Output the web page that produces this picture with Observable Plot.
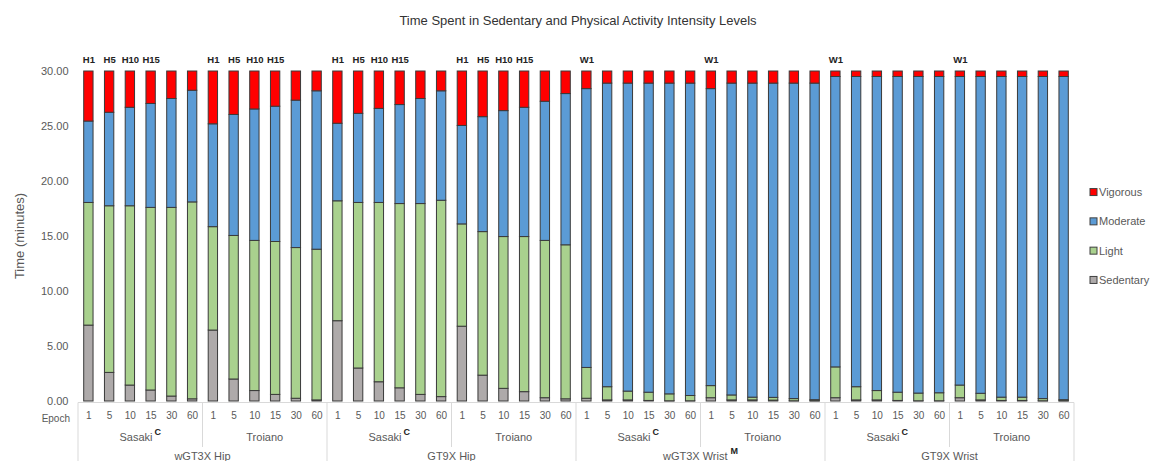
<!DOCTYPE html>
<html><head><meta charset="utf-8">
<script src="https://cdn.jsdelivr.net/npm/d3@7"></script>
<script src="https://cdn.jsdelivr.net/npm/@observablehq/plot@0.6"></script>
<style>
body{margin:0;background:#fff;font-family:"Liberation Sans",Arial,sans-serif}
</style>
</head><body><div id="chart"></div>
<script>
const title = "Time Spent in Sedentary and Physical Activity Intensity Levels";
const yLabel = "Time (minutes)";
const devices = ["wGT3X Hip", "GT9X Hip", "wGT3X Wrist", "GT9X Wrist"];
const deviceSup = ["", "", "M", ""];
const methods = ["Sasaki", "Troiano"];
const methodSup = ["C", ""];
const epochs = [1, 5, 10, 15, 30, 60];
const levels = ["Sedentary", "Light", "Moderate", "Vigorous"];
const colors = ["#aeaaaa", "#a9d18e", "#5b9bd5", "#ff0000"];
const yTicks = [0, 5, 10, 15, 20, 25, 30];
const hipMarks = ["H1", "H5", "H10", "H15", "", ""];
const wristMarks = ["W1", "", "", "", "", ""];

// Bars ordered device -> method -> epoch
const sedentary = [
  6.9, 2.6, 1.45, 1.0, 0.45, 0.2,
  6.45, 2.0, 0.95, 0.6, 0.25, 0.1,
  7.3, 3.0, 1.75, 1.2, 0.6, 0.4,
  6.8, 2.35, 1.15, 0.85, 0.3, 0.2,
  0.25, 0.1, 0.1, 0.05, 0.02, 0.02,
  0.3, 0.1, 0.1, 0.08, 0.02, 0.02,
  0.3, 0.1, 0.1, 0.05, 0.02, 0.02,
  0.3, 0.1, 0.05, 0.05, 0.02, 0.02
];
const light = [
  11.15, 15.15, 16.3, 16.6, 17.15, 17.9,
  9.4, 13.05, 13.65, 13.9, 13.7, 13.7,
  10.9, 15.05, 16.3, 16.75, 17.35, 17.85,
  9.3, 13.05, 13.8, 14.1, 14.3, 14.0,
  2.8, 1.2, 0.8, 0.75, 0.63, 0.48,
  1.1, 0.45, 0.25, 0.25, 0.2, 0.1,
  2.8, 1.2, 0.85, 0.75, 0.7, 0.73,
  1.15, 0.6, 0.3, 0.3, 0.2, 0.1
];
const moderate = [
  7.4, 8.5, 8.95, 9.45, 9.9, 10.15,
  9.35, 11.0, 11.95, 12.3, 13.4, 14.4,
  7.05, 8.1, 8.55, 9.0, 9.55, 9.95,
  8.95, 10.45, 11.45, 11.75, 12.65, 13.75,
  25.35, 27.6, 28.0, 28.1, 28.25, 28.4,
  27.0, 28.35, 28.55, 28.57, 28.68, 28.78,
  26.4, 28.2, 28.55, 28.7, 28.78, 28.75,
  28.05, 28.8, 29.15, 29.15, 29.28, 29.38
];
const vigorous = [
  4.55, 3.75, 3.3, 2.95, 2.5, 1.75,
  4.8, 3.95, 3.45, 3.2, 2.65, 1.8,
  4.75, 3.85, 3.4, 3.05, 2.5, 1.8,
  4.95, 4.15, 3.6, 3.3, 2.75, 2.05,
  1.6, 1.1, 1.1, 1.1, 1.1, 1.1,
  1.6, 1.1, 1.1, 1.1, 1.1, 1.1,
  0.5, 0.5, 0.5, 0.5, 0.5, 0.5,
  0.5, 0.5, 0.5, 0.5, 0.5, 0.5
];

const series = [sedentary, light, moderate, vigorous];
const bars = [];
devices.forEach((d, di) => methods.forEach((m, mi) => epochs.forEach((e, ei) => {
  bars.push({key: `${d}|${m}|${e}`, device: d, di, method: m, mi, epoch: e,
    top: (d.includes("Hip") ? hipMarks : wristMarks)[ei]});
})));
const keys = bars.map(b => b.key);
const rows = [];
levels.forEach((lv, li) => bars.forEach((b, i) => rows.push({key: b.key, level: lv, value: series[li][i]})));

const FONT = "'Liberation Sans', Arial, sans-serif";
const GRAY = "#595959";

function extras(index, scales, values, dims) {
  const x = scales.x, color = scales.color;
  const step = x(keys[1]) - x(keys[0]);
  const left = x(keys[0]) - (step - (x.bandwidth ? x.bandwidth() : 0)) / 2;
  const y0 = dims.height - dims.marginBottom;
  const g = d3.create("svg:g").attr("font-family", FONT);
  const lineCol = "#d9d9d9";
  const right = left + step * keys.length;
  g.append("line").attr("x1", left).attr("x2", right).attr("y1", y0 + 1.5).attr("y2", y0 + 1.5)
    .attr("stroke", lineCol);
  const nGroups = devices.length * methods.length;
  for (let i = 0; i <= nGroups; i++) {
    const xb = left + i * epochs.length * step;
    g.append("line").attr("x1", xb).attr("x2", xb).attr("y1", y0 + 1.5)
      .attr("y2", i % 2 === 0 ? dims.height : y0 + 46).attr("stroke", lineCol);
  }
  g.append("text").attr("x", dims.marginLeft - 8).attr("y", y0 + 17).attr("text-anchor", "end")
    .attr("dy", "0.35em").attr("font-size", 10).attr("fill", GRAY).text("Epoch");
  devices.forEach((d, di) => {
    methods.forEach((m, mi) => {
      const gi = di * 2 + mi;
      const cx = left + (gi + 0.5) * epochs.length * step;
      const t = g.append("text").attr("x", cx).attr("y", y0 + 36).attr("dy", "0.35em")
        .attr("text-anchor", "middle").attr("font-size", 11).attr("fill", GRAY);
      t.append("tspan").text(m);
      if (methodSup[mi]) t.append("tspan").attr("dy", "-0.6em").attr("dx", "2").attr("font-size", 9)
        .attr("font-weight", "bold").attr("fill", "#222").text(methodSup[mi]);
    });
    const cx = left + (di + 0.5) * 2 * epochs.length * step;
    const t = g.append("text").attr("x", cx).attr("y", y0 + 55).attr("dy", "0.35em")
      .attr("text-anchor", "middle").attr("font-size", 11).attr("fill", GRAY);
    t.append("tspan").text(d);
    if (deviceSup[di]) t.append("tspan").attr("dy", "-0.6em").attr("dx", "3").attr("font-size", 9)
      .attr("font-weight", "bold").attr("fill", "#222").text(deviceSup[di]);
  });
  g.append("text").attr("x", dims.width / 2).attr("y", 20).attr("dy", "0.35em")
    .attr("text-anchor", "middle").attr("font-size", 13).attr("fill", "#333").text(title);
  const yc = (dims.marginTop + y0) / 2;
  g.append("text").attr("transform", `translate(19,${yc}) rotate(-90)`).attr("dy", "0.35em")
    .attr("text-anchor", "middle").attr("font-size", 13).attr("fill", GRAY).text(yLabel);
  const lx = right + 16;
  const gap = 29.3;
  [...levels].reverse().forEach((lv, i) => {
    const ly = yc - 1.5 * gap + i * gap;
    g.append("rect").attr("x", lx).attr("y", ly - 3.5).attr("width", 7).attr("height", 7)
      .attr("fill", color(lv)).attr("stroke", "#404040").attr("stroke-width", 1);
    g.append("text").attr("x", lx + 9).attr("y", ly).attr("dy", "0.35em").attr("font-size", 11)
      .attr("text-anchor", "start").attr("fill", GRAY).text(lv);
  });
  return g.node();
}

const chart = Plot.plot({
  width: 1156, height: 461,
  marginTop: 71, marginBottom: 60, marginLeft: 78, marginRight: 82,
  style: {fontFamily: FONT, background: "#fff"},
  x: {domain: keys, paddingInner: 0.55, paddingOuter: 0.275, axis: null},
  y: {domain: [0, 30], axis: null},
  color: {domain: levels, range: colors},
  marks: [
    Plot.barY(rows, Plot.stackY({order: levels}, {x: "key", y: "value", fill: "level",
      stroke: "#3a3a3a", strokeWidth: 1})),
    Plot.axisY({ticks: yTicks, tickFormat: d3.format(".2f"), tickSize: 0, tickPadding: 10,
      fontSize: 11, color: GRAY, label: null}),
    Plot.text(bars.filter(b => b.top), {x: "key", y: () => 30, text: "top", dy: -12,
      fontWeight: "bold", fontSize: 9.5, fill: "#222"}),
    Plot.text(bars, {x: "key", text: "epoch", frameAnchor: "bottom", dy: 17, fontSize: 10, fill: GRAY}),
    extras
  ]
});
document.getElementById("chart").appendChild(chart);
</script>
</body></html>
